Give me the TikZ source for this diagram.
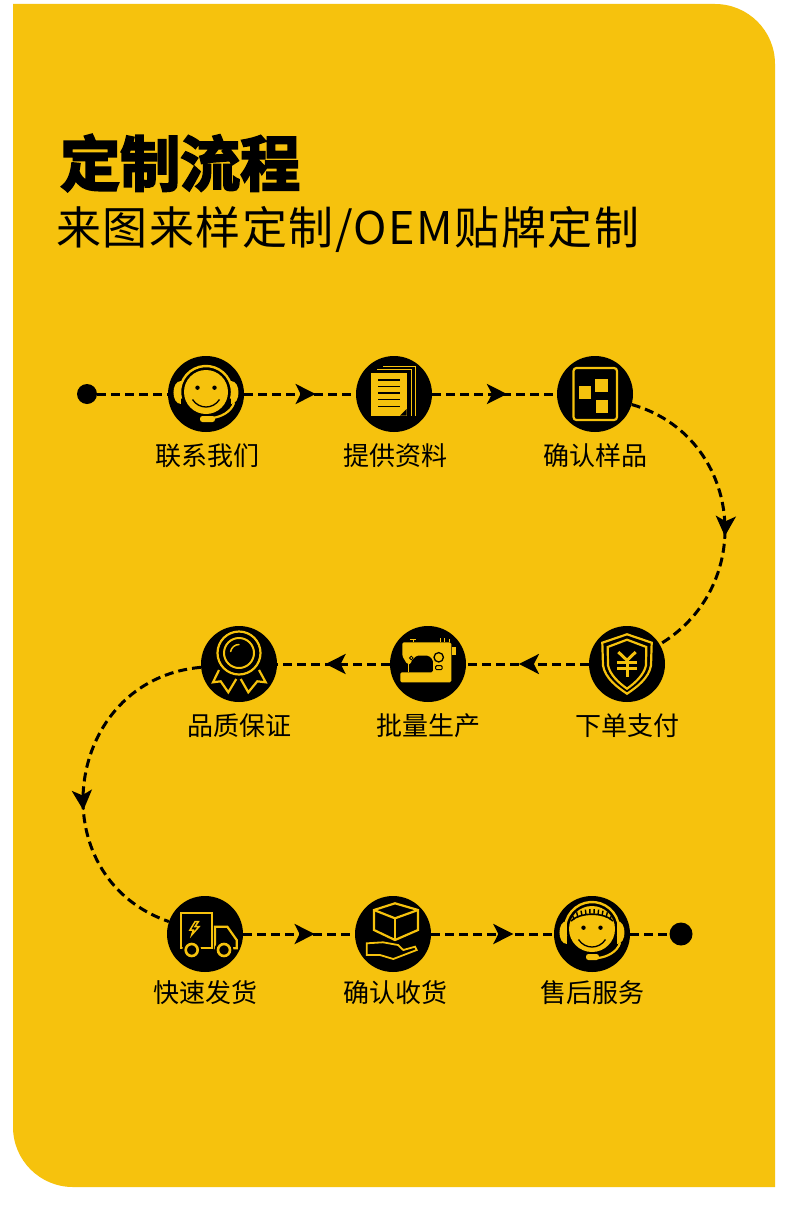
\documentclass[tikz,border=0pt]{standalone}
\usepackage{fontspec}
\setmainfont{Noto Sans CJK SC}
\newfontfamily\titlefont[FakeBold=3.5]{Noto Sans CJK SC Bold}
\newfontfamily\subfont[LetterSpace=3.3]{Noto Sans CJK SC}
\usepackage{xcolor}
\definecolor{plate}{HTML}{F6C20D}
\usetikzlibrary{arrows.meta,calc,positioning,decorations.markings}
\tikzset{
  x=1pt, y=1pt,
  stepdisc/.style={circle, fill=black, minimum size=76pt, inner sep=0pt},
  enddot/.style={circle, fill=black, inner sep=0pt},
  steplbl/.style={font=\fontsize{26}{26}\selectfont, text=black, inner sep=0pt},
  flow/.style={black, line width=3pt, dash pattern=on 9pt off 5pt},
  tip/.style={decoration={markings,
      mark=at position #1 with {\arrow{Stealth[length=20pt,width=20pt,inset=5pt]}}},
    postaction={decorate}},
  iconline/.style={plate, line width=2.2pt, line join=miter},
  iconink/.style={black, line width=1.3pt},
}
% headset around a face: #1 = height of the face centre, #2 = face radius
\newcommand{\headset}[2]{%
  \fill[plate] (0,#1) circle (#2);
  \draw[plate, line width=2.4pt] (0,#1) ++(195:{#2+4}) arc[start angle=195, end angle=-15, radius=#2+4];
  \fill[plate] (-25,13) .. controls (-35,13) and (-35,-10) .. (-25,-10) -- cycle;
  \fill[plate] (25,13) .. controls (35,13) and (35,-10) .. (25,-10) -- cycle;
  \draw[plate, line width=2.2pt] (28,-9) .. controls (25,-18) and (15,-23) .. (6,-24);
  \fill (-8.5,6.3) circle (2.2);
  \fill (8.5,6.3) circle (2.2);
  \draw[iconink] (-13.5,-5.5) .. controls (-7,-15.5) and (7,-15.5) .. (13.5,-5.5);}
\begin{document}
\begin{tikzpicture}
\useasboundingbox (0,0) rectangle (790,-1231);
\fill[white] (0,0) rectangle (790,-1231);
\fill[plate] (13,-4) -- (715,-4) arc[start angle=90, end angle=0, radius=60]
  -- (775,-1187) -- (73,-1187) arc[start angle=270, end angle=180, radius=60] -- cycle;

\node[font=\titlefont\fontsize{60}{60}\selectfont, anchor=base west, inner sep=0pt] (title)
  at (60,-186) {定制流程};
\node[font=\subfont\fontsize{45}{45}\selectfont, anchor=base west, inner sep=0pt] (subtitle)
  at (56,-244) {来图来样定制/OEM贴牌定制};

% ------------------------------------------------------------------ row 1
\node[enddot, minimum size=20pt] (begin) at (87,-394) {};
\node[stepdisc] (contact) at (206,-394) {};
\node[stepdisc] (docs) at (394,-394) {};
\node[stepdisc] (sample) at (595,-394) {};
\node[steplbl, below=11pt of contact, xshift=1pt] (contactlbl) {联系我们};
\node[steplbl, below=11pt of docs, xshift=1pt] (docslbl) {提供资料};
\node[steplbl, below=11pt of sample] (samplelbl) {确认样品};

% ------------------------------------------------------------------ row 2
\node[stepdisc] (pay) at (627,-664) {};
\node[stepdisc] (batch) at (428,-664) {};
\node[stepdisc] (quality) at (239,-664) {};
\node[steplbl, below=11pt of pay] (paylbl) {下单支付};
\node[steplbl, below=11pt of batch] (batchlbl) {批量生产};
\node[steplbl, below=11pt of quality] (qualitylbl) {品质保证};

% ------------------------------------------------------------------ row 3
\node[stepdisc] (ship) at (205,-934) {};
\node[stepdisc] (receipt) at (393,-934) {};
\node[stepdisc] (service) at (592,-934) {};
\node[enddot, minimum size=23pt] (finish) at (681,-934) {};
\node[steplbl, below=8pt of ship] (shiplbl) {快速发货};
\node[steplbl, below=8pt of receipt, xshift=2pt] (receiptlbl) {确认收货};
\node[steplbl, below=8pt of service] (servicelbl) {售后服务};

% connectors
\draw[flow] (begin) -- (contact);
\draw[flow, tip=0.64] (contact) -- (docs);
\draw[flow, tip=0.6] (docs) -- (sample);
\draw[flow, tip=0.57] (sample) to[out=-16, in=31, looseness=1.22] (pay);
\draw[flow, tip=0.57] (pay) -- (batch);
\draw[flow, tip=0.57] (batch) -- (quality);
\draw[flow, tip=0.58] (quality) to[out=185, in=161, looseness=1.38] (ship);
\draw[flow, tip=0.64] (ship) -- (receipt);
\draw[flow, tip=0.67] (receipt) -- (service);
\draw[flow] (service) -- (finish);

% ------------------------------------------------------------------ icons
\begin{scope}[shift={(contact.center)}]
\headset{2}{22}
\fill[plate, rounded corners=2.5pt] (-6,-28) rectangle (9,-22);
\end{scope}

\begin{scope}[shift={(docs.center)}]
\fill[plate] (-23.3,-22.3) rectangle (13.3,21);
\draw[plate, line width=1.2pt] (-17,24.3) -- (17.3,24.3) -- (17.3,-22.3);
\draw[plate, line width=1.2pt] (-11,27.3) -- (21.7,27.3) -- (21.7,-22.3);
\foreach \yy in {14,7.3,1,-5.7,-12.3}
  \draw[black, line width=1.2pt] (-16,\yy) -- (6,\yy);
\fill (12.7,-15) -- (12.7,-21.7) -- (6,-21.7) -- cycle;
\end{scope}

\begin{scope}[shift={(sample.center)}]
\draw[iconline, rounded corners=3pt] (-21.5,-26) rectangle (22,26);
\fill[plate] (-16,-5) rectangle (-4,8);
\fill[plate] (0,2) rectangle (12.5,15);
\fill[plate] (0.7,-19) rectangle (13,-6);
\end{scope}

\begin{scope}[shift={(pay.center)}]
\draw[iconline] (0,29.7) -- (-24.7,21.3) -- (-24,-1.3) .. controls (-22,-14) and (-10,-23) .. (0,-29.7)
  .. controls (10,-23) and (22,-14) .. (24,-1.3) -- (24.7,21.3) -- cycle;
\draw[iconline] (0,24.3) -- (-19.3,17) -- (-19,-1.3) .. controls (-17,-11) and (-8,-19) .. (0,-24.7)
  .. controls (8,-19) and (17,-11) .. (19,-1.3) -- (19.3,17) -- cycle;
\draw[plate, line width=3pt] (-8.7,12) -- (0,3.7) -- (8.7,12);
\draw[plate, line width=3pt] (0,3.7) -- (0,-13);
\draw[plate, line width=3pt] (-10,2) -- (10,2);
\draw[plate, line width=3pt] (-10,-4.7) -- (10,-4.7);
\end{scope}

\begin{scope}[shift={(batch.center)}]
\fill[plate, rounded corners=1.5pt] (-25.7,21.7) -- (23.3,21.7) -- (23.3,-18.3) -- (-27.7,-18.3)
  -- (-27.7,-8.3) -- (5,-8.3) -- (5,4) -- (1,8.3) -- (-11.7,8.3) -- (-17,3) -- (-17,0) -- (-21,0)
  -- (-25.7,8) -- cycle;
\draw[iconink] (10.7,6.7) circle (4.7);
\draw[iconink, line width=1pt, rounded corners=1pt] (7.7,-5.7) rectangle (14,-1.7);
\draw[black, line width=0.8pt] (-16.7,6) circle (1.8);
\draw[plate, line width=1pt] (-20,0) -- (-20,-8.3);
\fill[plate] (24,9.3) rectangle (28,16.7);
\draw[plate, line width=1pt] (-15,25) -- (-15,21.7);
\draw[plate, line width=1pt] (-18,25) -- (-12,25);
\draw[plate, line width=1pt] (12.3,21.7) -- (12.3,26.5);
\draw[plate, line width=1pt] (16.7,21.7) -- (16.7,26.5);
\draw[plate, line width=1pt] (21,21.7) -- (21,25);
\end{scope}

\begin{scope}[shift={(quality.center)}]
\draw[iconline] (-20,-6) -- (-26,-18.3) -- (-18.3,-17.3) -- (-10.7,-28.3) -- (-2.7,-15);
\draw[iconline] (20,-6) -- (26.7,-18.3) -- (18.3,-17.3) -- (9.3,-28.3) -- (1.7,-15);
\fill[black] (0,11) circle (23.5);
\draw[iconline] (0,11) circle (21.5);
\draw[plate, line width=2pt] (0,11) circle (15);
\draw[plate, line width=1.5pt, line cap=round] (0,11) ++(170:8.5) arc[start angle=170, end angle=90, radius=8.5];
\end{scope}

\begin{scope}[shift={(ship.center)}]
\draw[iconline] (-24.3,-14.3) -- (-24.3,20.7) -- (6.7,20.7) -- (6.7,-14.3) -- cycle;
\draw[iconline] (10,-14.3) -- (10,7.3) -- (22.3,7.3) -- (31.7,-6) -- (31.7,-14.3) -- cycle;
\draw[plate, line width=1.5pt] (-10,12.3) -- (-15,4) -- (-11.7,4) -- (-13.3,-1) -- (-6,7.3) -- (-10,7.3) -- (-6.7,12.3) -- cycle;
\foreach \cx in {-13.3,19} {
  \fill[black] (\cx,-16) circle (9.5);
  \draw[plate, line width=2.6pt] (\cx,-16) circle (6);
}
\end{scope}

\begin{scope}[shift={(receipt.center)}]
\draw[iconline] (2,30.7) -- (-19,24) -- (-19,4) -- (2,-6) -- (25,4) -- (25,24) -- cycle;
\draw[iconline] (-19,24) -- (2,15.7) -- (25,24);
\draw[iconline] (2,15.7) -- (2,-6);
\draw[iconline, line width=1.8pt] (-26.3,-9.3) -- (-26.3,-21) -- (-13,-21) -- (0.3,-25) -- (23.7,-16)
  -- (22,-12.7) -- (10.3,-16) -- (5,-11) -- (-10,-8.3) -- cycle;
\end{scope}

\begin{scope}[shift={(service.center)}]
\headset{5}{23}
\fill[plate, rounded corners=2.5pt] (-6,-26) rectangle (7,-20);
\draw[iconink, line width=1.6pt] (-21,13) .. controls (-12,22) and (12,22) .. (21,13);
\foreach \xx in {-18,-14,...,18}
  \draw[iconink, line width=1.4pt] (\xx,{19.8-\xx*\xx/60}) -- ({1.1*\xx},{25-\xx*\xx/60});
\end{scope}
\end{tikzpicture}
\end{document}
